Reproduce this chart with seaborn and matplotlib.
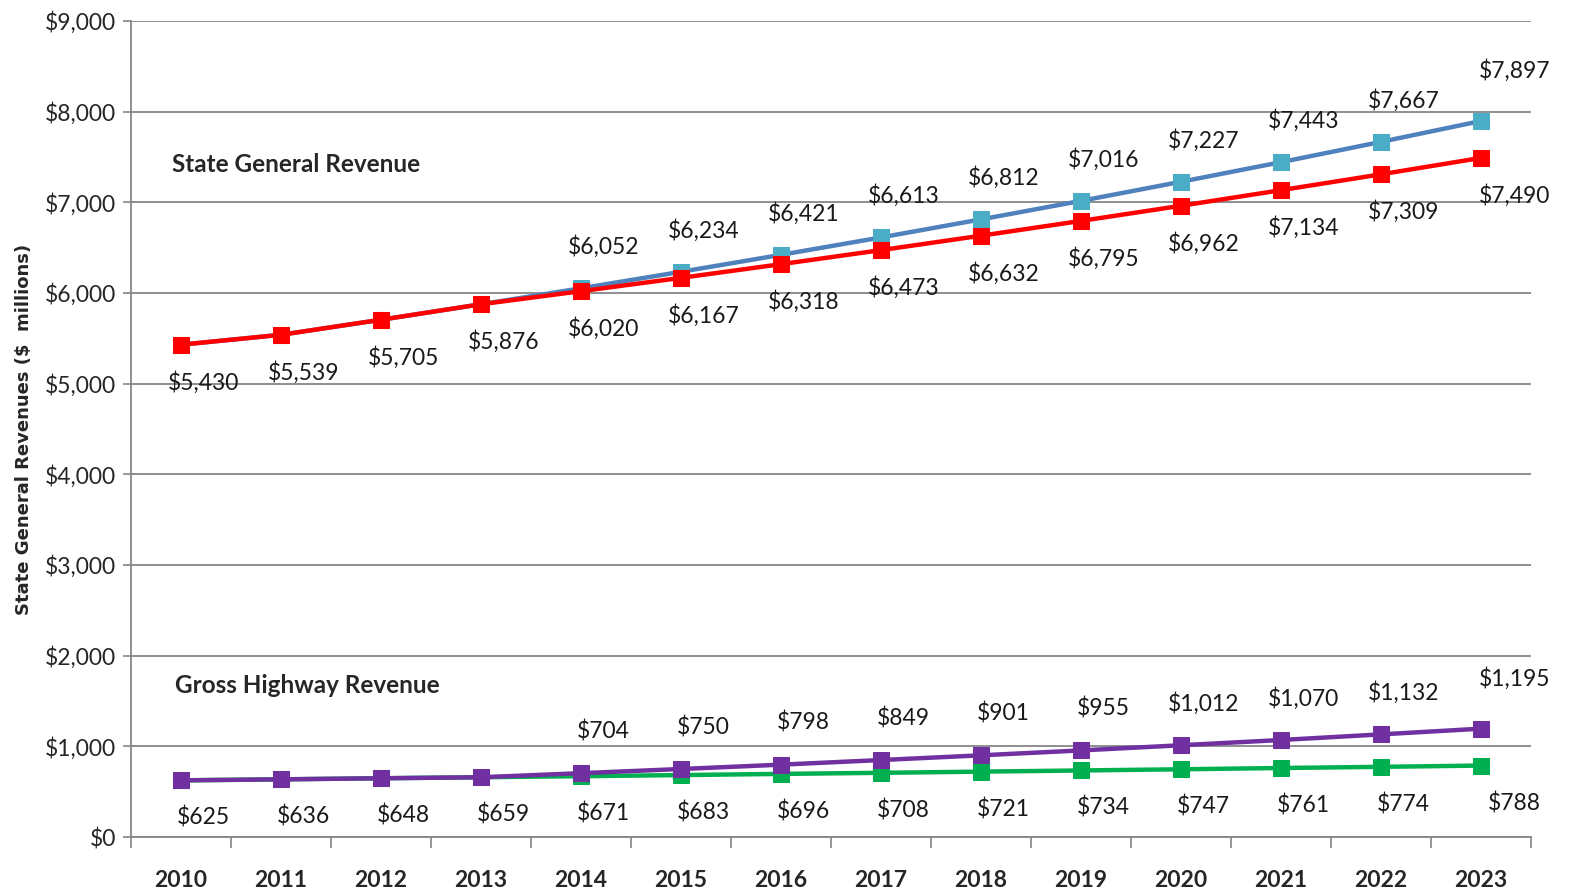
import numpy as np
import pandas as pd
import seaborn as sns
import matplotlib.pyplot as plt
from matplotlib.ticker import FuncFormatter, FixedLocator

# ---------- data ----------
years = [2010, 2011, 2012, 2013, 2014, 2015, 2016, 2017, 2018, 2019, 2020, 2021, 2022, 2023]
state_high = [5430, 5539, 5705, 5876, 6052, 6234, 6421, 6613, 6812, 7016, 7227, 7443, 7667, 7897]
state_base = [5430, 5539, 5705, 5876, 6020, 6167, 6318, 6473, 6632, 6795, 6962, 7134, 7309, 7490]
hwy_high = [625, 636, 648, 659, 704, 750, 798, 849, 901, 955, 1012, 1070, 1132, 1195]
hwy_base = [625, 636, 648, 659, 671, 683, 696, 708, 721, 734, 747, 761, 774, 788]
y_ticks = [0, 1000, 2000, 3000, 4000, 5000, 6000, 7000, 8000, 9000]

sns.set_theme(style="white")
plt.rcParams['font.family'] = ['Lato', 'DejaVu Sans']

df = pd.DataFrame({
    'pos': np.arange(len(years)),
    'state_high': state_high,
    'state_base': state_base,
    'hwy_high': hwy_high,
    'hwy_base': hwy_base,
})

fig = plt.figure(figsize=(15.81, 8.93), dpi=100)
ax = fig.add_axes([0.0829, 0.0627, 0.8855, 0.9138])

# series: column, line colour, marker colour, label side, zorder
series = [
    ('state_high', '#4F81BD', '#4BACC6', 'above', 2),
    ('state_base', '#FF0000', '#FF0000', 'below', 3),
    ('hwy_base', '#00B050', '#00B050', 'below', 2),
    ('hwy_high', '#7030A0', '#7030A0', 'above', 3),
]

for col, lc, mc, side, z in series:
    sns.lineplot(data=df, x='pos', y=col, ax=ax, color=lc, linewidth=3.2,
                 marker='s', markersize=12, markerfacecolor=mc, markeredgecolor=mc,
                 zorder=z)
    # high scenarios only get labels once they split from the base line
    for i, v in enumerate(df[col]):
        if col in ('state_high', 'hwy_high') and i < 4:
            continue
        last = i == len(years) - 1
        dx = 24 if last else 16
        dy = 30 if side == 'above' else -27
        if last and side == 'above':
            dy = 36
        ax.annotate(f"${v:,}", (i, v), xytext=(dx, dy), textcoords='offset points',
                    ha='center', va='center', fontsize=16.5, color='#1a1a1a')

ax.set_xlim(-0.5, len(years) - 0.5)
ax.set_ylim(0, 9000)
ax.set_yticks(y_ticks)
ax.yaxis.set_major_formatter(FuncFormatter(lambda v, p: f"${int(v):,}"))
ax.set_xticks(df['pos'])
ax.set_xticklabels([str(y) for y in years], fontsize=16.5, fontweight='bold')
ax.xaxis.set_minor_locator(FixedLocator(np.arange(-0.5, len(years), 1.0)))
ax.tick_params(axis='x', which='major', bottom=True, length=0, pad=24)
ax.tick_params(axis='x', which='minor', bottom=True, length=8, width=1.2,
               color='#868686', direction='out')
ax.tick_params(axis='y', which='major', left=True, length=6, width=1.2, color='#868686',
               direction='out', labelsize=16.5, pad=5)
ax.set_xlabel('')
ax.set_ylabel('State General Revenues ($  millions)', family='DejaVu Sans',
              fontsize=13, fontweight='bold', labelpad=8)

ax.grid(axis='y', color='#868686', linewidth=1.3)
ax.set_axisbelow(True)
for s in ['top', 'right']:
    ax.spines[s].set_visible(False)
for s in ['left', 'bottom']:
    ax.spines[s].set_color('#868686')
    ax.spines[s].set_linewidth(1.3)

ax.text(-0.09, 7412, 'State General Revenue', fontsize=17.5, fontweight='bold',
        va='center', ha='left')
ax.text(-0.06, 1676, 'Gross Highway Revenue', fontsize=17.5, fontweight='bold',
        va='center', ha='left')

fig.savefig('out.png', dpi=100)
